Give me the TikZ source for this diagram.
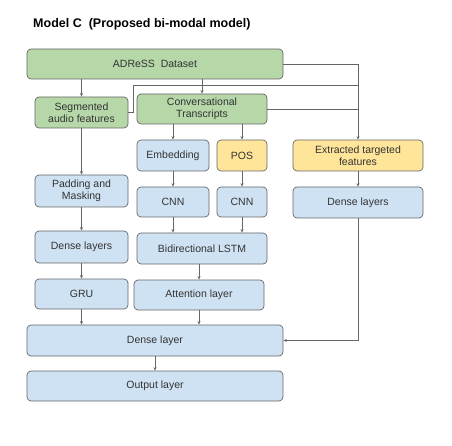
\documentclass[tikz,border=0pt]{standalone}
\usepackage{fontspec}
\setmainfont{Liberation Sans}
\usetikzlibrary{arrows.meta}
\definecolor{grn}{HTML}{B6D7A8}
\definecolor{blu}{HTML}{CFE2F3}
\definecolor{yel}{HTML}{FFE599}
\definecolor{edge}{HTML}{666666}
\definecolor{txt}{HTML}{333333}
\begin{document}
\begin{tikzpicture}[x=1pt,y=-1pt,
    box/.style={draw=edge, line width=0.7pt, rounded corners=4pt, text=txt, align=center,
        inner sep=0pt, font=\fontsize{10.5}{12}\selectfont},
    arr/.style={draw=edge, line width=0.6pt, -{Stealth[length=3.5pt,width=3pt]}},
    ln/.style={draw=edge, line width=0.6pt}]
    \useasboundingbox (0,0) rectangle (452,446);
    \node[anchor=base west, inner sep=0pt, font=\bfseries\fontsize{12.5}{14}\selectfont] (title) at (33,27.5) {Model C\ \ (Proposed bi-modal model)};
    % boxes
    \node[box, fill=grn, minimum width=256pt, minimum height=30pt] (data) at (155,64) {ADReSS\ \ Dataset};
    \node[box, fill=grn, minimum width=93pt, minimum height=31pt] (seg) at (81.5,112.5) {Segmented\\audio features};
    \node[box, fill=grn, minimum width=130pt, minimum height=30pt] (conv) at (202,109) {Conversational\\Transcripts};
    \node[box, fill=blu, minimum width=72pt, minimum height=31pt] (emb) at (173,155.5) {Embedding};
    \node[box, fill=yel, minimum width=50pt, minimum height=31pt] (pos) at (242,155.5) {POS};
    \node[box, fill=yel, minimum width=130pt, minimum height=31pt] (ext) at (358,155.5) {Extracted targeted\\features};
    \node[box, fill=blu, minimum width=93pt, minimum height=32pt] (pad) at (81.5,191) {Padding and\\Masking};
    \node[box, fill=blu, minimum width=72pt, minimum height=30pt] (cnna) at (173,202) {CNN};
    \node[box, fill=blu, minimum width=50pt, minimum height=30pt] (cnnb) at (242,202) {CNN};
    \node[box, fill=blu, minimum width=130pt, minimum height=31pt] (denser) at (358,202.5) {Dense layers};
    \node[box, fill=blu, minimum width=93pt, minimum height=32pt] (densel) at (81.5,247) {Dense layers};
    \node[box, fill=blu, minimum width=130pt, minimum height=31pt] (lstm) at (202,248.5) {Bidirectional LSTM};
    \node[box, fill=blu, minimum width=93pt, minimum height=30pt] (gru) at (81.5,294) {GRU};
    \node[box, fill=blu, minimum width=130pt, minimum height=30pt] (att) at (199,295) {Attention layer};
    \node[box, fill=blu, minimum width=256pt, minimum height=31pt] (dense) at (155,340.5) {Dense layer};
    \node[box, fill=blu, minimum width=256pt, minimum height=30pt] (out) at (155,386) {Output layer};
    \coordinate (join) at (358,85);
    % connectors
    \draw[arr] (seg.north |- data.south) -- (seg.north);
    \draw[arr] (conv.north |- data.south) -- (conv.north);
    \draw[arr] (data.east) -| (ext.north);
    \draw[ln] (seg.east) -- ++(5,0) |- (join);
    \draw[ln] (conv.east) -- (conv.east -| ext.north);
    \draw[arr] (emb.north |- conv.south) -- (emb.north);
    \draw[arr] (pos.north |- conv.south) -- (pos.north);
    \draw[arr] (emb) -- (cnna);
    \draw[arr] (pos) -- (cnnb);
    \draw[arr] (cnna.south) -- (cnna.south |- lstm.north);
    \draw[arr] (cnnb.south) -- (cnnb.south |- lstm.north);
    \draw[arr] (ext) -- (denser);
    \draw[arr] (att.north |- lstm.south) -- (att.north);
    \draw[arr] (seg) -- (pad);
    \draw[arr] (pad) -- (densel);
    \draw[arr] (densel) -- (gru);
    \draw[arr] (gru.south) -- (gru.south |- dense.north);
    \draw[arr] (att.south) -- (att.south |- dense.north);
    \draw[arr] (denser.south) |- (dense.east);
    \draw[arr] (dense) -- (out);
\end{tikzpicture}
\end{document}
